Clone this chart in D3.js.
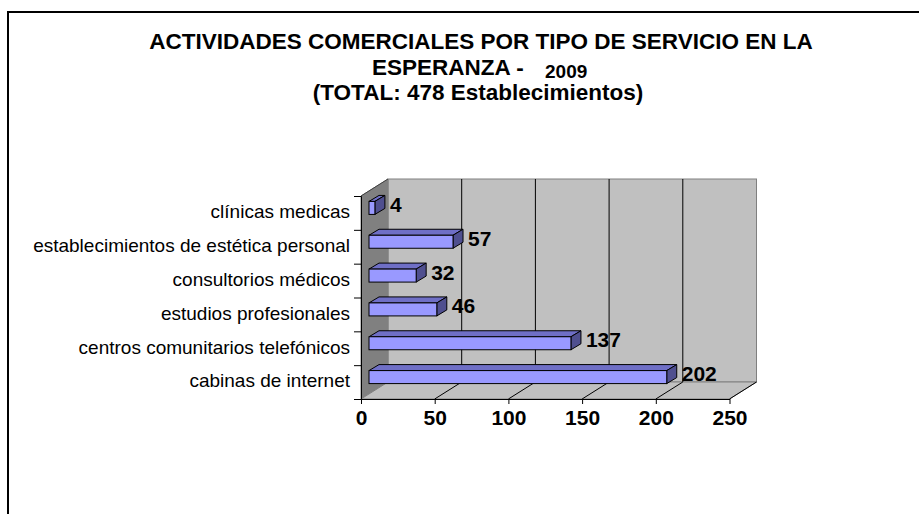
<!DOCTYPE html>
<html>
<head>
<meta charset="utf-8">
<script src="https://cdn.jsdelivr.net/npm/d3@7"></script>
<style>
  body { margin: 0; background: #fff; }
  svg { display: block; }
</style>
</head>
<body>
<svg width="919" height="514"></svg>
<script>
// servicios y cantidades (de arriba hacia abajo)
const categories = ["clínicas medicas", "establecimientos de estética personal", "consultorios médicos",
    "estudios profesionales", "centros comunitarios telefónicos", "cabinas de internet"];
const values = [4, 57, 32, 46, 137, 202];
const xTicks = [0, 50, 100, 150, 200, 250];
const titleLines = ["ACTIVIDADES COMERCIALES POR TIPO DE SERVICIO EN LA", "ESPERANZA -", "(TOTAL: 478 Establecimientos)"];
const titleYear = "2009";

const svg = d3.select("svg");
const font = "Arial, 'Liberation Sans', sans-serif";

// marco exterior
svg.append("rect")
    .attr("x", 8).attr("y", 12)
    .attr("width", 940).attr("height", 540)
    .attr("fill", "none").attr("stroke", "#000").attr("stroke-width", 2);

// titulo
const title = svg.append("g")
    .attr("font-family", font).attr("font-weight", "bold").attr("fill", "#000");
title.append("text").attr("x", 481).attr("y", 49)
    .attr("text-anchor", "middle").attr("font-size", "22.5px").text(titleLines[0]);
title.append("text").attr("x", 372).attr("y", 75)
    .attr("font-size", "22.5px").text(titleLines[1]);
title.append("text").attr("x", 545).attr("y", 78)
    .attr("font-size", "19px").text(titleYear);
title.append("text").attr("x", 478).attr("y", 100)
    .attr("text-anchor", "middle").attr("font-size", "22.5px").text(titleLines[2]);

// escalas
const x = d3.scaleLinear().domain([0, 250]).range([361, 729.5]);
const y = d3.scaleBand().domain(categories).range([196, 399]);
const dx = 27, dy = -17;        // profundidad del grafico 3d
const bx = 8, by = -5;          // posicion de las barras dentro de la profundidad
const bdx = 10, bdy = -6;       // profundidad de cada barra
const barH = 13;

const x0 = x(0), x1 = x(250), yTop = 196, yBot = 399;

// pared del fondo
svg.append("rect")
    .attr("x", x0 + dx).attr("y", yTop + dy)
    .attr("width", x1 - x0).attr("height", yBot - yTop)
    .attr("fill", "#c0c0c0").attr("stroke", "#808080");

// pared izquierda
svg.append("polygon")
    .attr("points", [[x0, yTop], [x0 + dx, yTop + dy], [x0 + dx, yBot + dy], [x0, yBot]].join(" "))
    .attr("fill", "#808080").attr("stroke", "#808080");

// piso
svg.append("polygon")
    .attr("points", [[x0, yBot], [x0 + dx, yBot + dy], [x1 + dx, yBot + dy], [x1, yBot]].join(" "))
    .attr("fill", "#c0c0c0").attr("stroke", "#808080");

// lineas de division
svg.append("g").selectAll("line.back")
    .data(xTicks.slice(1, -1))
    .join("line")
    .attr("x1", d => x(d) + dx).attr("x2", d => x(d) + dx)
    .attr("y1", yTop + dy).attr("y2", yBot + dy)
    .attr("stroke", "#000").attr("stroke-width", 1);
svg.append("g").selectAll("line.floor")
    .data(xTicks.slice(1))
    .join("line")
    .attr("x1", d => x(d)).attr("x2", d => x(d) + dx)
    .attr("y1", yBot).attr("y2", yBot + dy)
    .attr("stroke", "#000").attr("stroke-width", 1);
svg.append("line")
    .attr("x1", x0).attr("y1", yTop).attr("x2", x0 + dx).attr("y2", yTop + dy)
    .attr("stroke", "#404040");

// eje de categorias (marcas entre bandas)
const yEdges = d3.scaleLinear().domain([0, categories.length]).range([yBot, yTop]);
svg.append("g")
    .attr("transform", `translate(${x0},0)`)
    .call(d3.axisLeft(yEdges).ticks(categories.length).tickFormat("").tickSize(7).tickSizeOuter(7))
    .call(g => g.selectAll("path,line").attr("stroke", "#000"));

svg.append("g")
    .attr("transform", `translate(${x0},0)`)
    .call(d3.axisLeft(y).tickSize(0).tickPadding(11))
    .call(g => g.select(".domain").remove())
    .call(g => g.selectAll("text")
        .attr("font-family", font).attr("font-size", "19px").attr("fill", "#000")
        .attr("dy", "0.28em"));

// eje de valores
svg.append("g")
    .attr("transform", `translate(0,${yBot})`)
    .call(d3.axisBottom(x).tickValues(xTicks).tickSize(5).tickSizeOuter(0).tickPadding(6))
    .call(g => g.selectAll("path,line").attr("stroke", "#000"))
    .call(g => g.selectAll("text")
        .attr("font-family", font).attr("font-size", "21px").attr("font-weight", "bold").attr("fill", "#000"));

// barras 3d
const rows = categories.map((c, i) => ({ cat: c, val: values[i] }));
const bars = svg.append("g").selectAll("g").data(rows).join("g");
const fx0 = d => x(0) + bx;
const fx1 = d => x(d.val) + bx;
const ft = d => y(d.cat) + y.bandwidth() / 2 + by - barH / 2;
const fb = d => ft(d) + barH;

bars.append("polygon")
    .attr("points", d => [[fx0(d), ft(d)], [fx0(d) + bdx, ft(d) + bdy], [fx1(d) + bdx, ft(d) + bdy], [fx1(d), ft(d)]].join(" "))
    .attr("fill", "#6f6fc6").attr("stroke", "#000");
bars.append("polygon")
    .attr("points", d => [[fx1(d), ft(d)], [fx1(d) + bdx, ft(d) + bdy], [fx1(d) + bdx, fb(d) + bdy], [fx1(d), fb(d)]].join(" "))
    .attr("fill", "#4f4f8f").attr("stroke", "#000");
bars.append("rect")
    .attr("x", fx0).attr("y", ft)
    .attr("width", d => fx1(d) - fx0(d)).attr("height", barH)
    .attr("fill", "#9999ff").attr("stroke", "#000");

// etiquetas de valor
bars.append("text")
    .attr("x", d => fx1(d) + bdx + 5)
    .attr("y", d => ft(d) + barH / 2 + 4)
    .attr("font-family", font).attr("font-size", "21px").attr("font-weight", "bold")
    .text(d => d.val);
</script>
</body>
</html>
